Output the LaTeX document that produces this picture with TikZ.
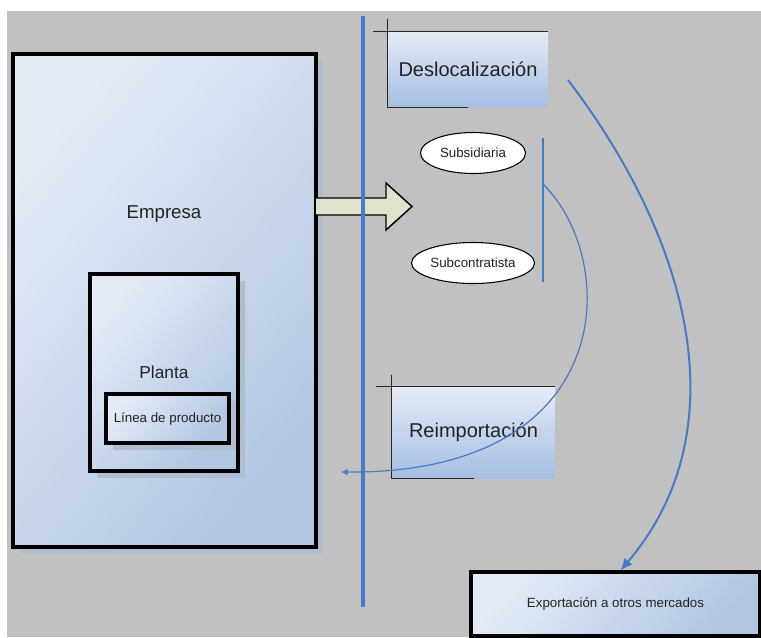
\documentclass[tikz,border=0pt]{standalone}
\usepackage{fontspec}
\setmainfont{Liberation Sans}
\usetikzlibrary{shapes.geometric,shadows,arrows.meta}
\definecolor{fondo}{RGB}{192,193,192}
\definecolor{cajaclara}{RGB}{228,235,246}
\definecolor{cajaoscura}{RGB}{178,198,226}
\definecolor{cajaazul}{RGB}{166,190,226}
\definecolor{sombra}{RGB}{176,188,208}
\definecolor{azul}{RGB}{72,122,198}
\definecolor{flecha}{RGB}{221,227,205}
\definecolor{texto}{RGB}{35,35,35}
\tikzset{
  caja/.style={draw=black, line width=2.3pt, inner sep=0pt, text=texto,
    top color=cajaclara, bottom color=cajaoscura, shading angle=50,
    drop shadow={shadow xshift=5pt, shadow yshift=-5pt, fill=sombra, opacity=1}},
  bandera/.style={inner sep=0pt, text=texto, font=\fontsize{15}{18}\selectfont,
    top color=cajaclara, bottom color=cajaazul},
  borde/.style={line width=1.1pt, draw=black!85},
  ovalo/.style={ellipse, draw=black, line width=0.8pt, fill=white, inner sep=0pt,
    minimum height=30.75pt, font=\fontsize{10}{12}\selectfont, text=texto},
  conector/.style={draw=azul, line width=0.9pt}
}
\begin{document}
\begin{tikzpicture}[x=0.75pt,y=-0.75pt]
  \useasboundingbox (0,0) rectangle (761,637);
  %fondo
  \fill[white] (0,0) rectangle (761,637);
  \fill[fondo] (7,11) rectangle (761,637);
  %empresa
  \node (empresa) [caja, minimum width=227.25pt, minimum height=369.75pt] at (164.5,300.5) {};
  \node (empresa-txt) [text=texto, font=\fontsize{14}{17}\selectfont] at (164,214) {Empresa};
  \node (planta) [caja, minimum width=111pt, minimum height=147.75pt,
    font=\fontsize{13}{16}\selectfont] at (164,372.5) {Planta};
  \node (linea) [caja, minimum width=92.25pt, minimum height=36.75pt,
    font=\fontsize{10}{12}\selectfont] at (167.5,418.5) {Línea de producto};
  %flecha grande
  \draw[fill=flecha, line width=1.1pt, line join=miter]
    (316,198) -- (386,198) -- (386,183) -- (412,206.5) -- (386,230) -- (386,215) -- (316,215);
  %frontera
  \coordinate (muro-a) at (363,16);
  \coordinate (muro-b) at (363,607);
  \draw[azul, line width=2.3pt] (muro-a) -- (muro-b);
  %deslocalizacion
  \node (deslo) [bandera, minimum width=120pt, minimum height=56.25pt] at (468,69.5) {Deslocalización};
  \draw[borde] ([xshift=-11.25pt]deslo.north west) -- (deslo.north east);
  \draw[borde] ([yshift=9.75pt]deslo.north west) -- (deslo.south west) -- (deslo.south);
  %modos
  \node (subsid) [ovalo, minimum width=78.75pt] at (473,153) {Subsidiaria};
  \node (subcon) [ovalo, minimum width=92.25pt] at (473,263) {Subcontratista};
  \coordinate (llave-a) at (543,138);
  \coordinate (llave-m) at (543,184);
  \coordinate (llave-b) at (543,282);
  \draw[conector] (llave-a) -- (llave-b);
  %reimportacion
  \node (reimp) [bandera, minimum width=122.25pt, minimum height=68.25pt] at (473.5,432.5) {Reimportación};
  \draw[borde] ([xshift=-12pt]reimp.north west) -- (reimp.north east);
  \draw[borde] ([yshift=9pt]reimp.north west) -- (reimp.south west) -- (reimp.south);
  \coordinate (vuelta) at (341,472);
  \draw[conector, -{Latex[length=5pt,width=5pt]}]
    (llave-m) .. controls (620,260) and (620,474) .. (vuelta);
  %exportacion
  \node (export) [caja, drop shadow={opacity=0}, minimum width=216.75pt, minimum height=48pt,
    font=\fontsize{10}{12}\selectfont] at (615.5,604) {Exportación a otros mercados};
  \coordinate (salida) at (568,80);
  \draw[azul, line width=1.5pt, -{Latex[length=9pt,width=8pt]}]
    (salida) .. controls (690,240) and (740,430) .. ([xshift=3.75pt]export.north);
\end{tikzpicture}
\end{document}
